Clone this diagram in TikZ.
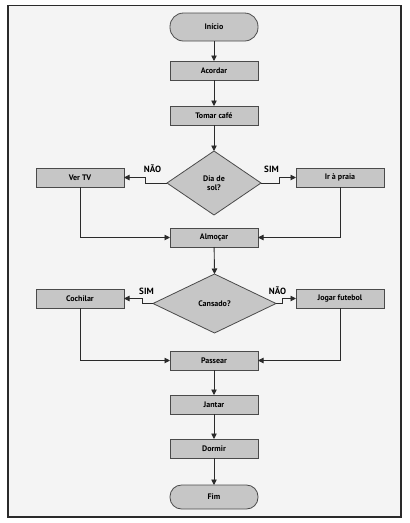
\documentclass[tikz,border=0pt]{standalone}
\usepackage{fontspec}
\setmainfont{PT Sans}
\usetikzlibrary{shapes.geometric,arrows.meta}
\definecolor{bgc}{HTML}{F4F4F4}
\definecolor{boxc}{HTML}{C6C6C6}
\definecolor{edgec}{HTML}{4A4A4A}
\definecolor{linec}{HTML}{2A2A2A}
\begin{document}
\begin{tikzpicture}[x=1pt,y=-1pt,
  every node/.style={font=\fontsize{8}{9}\selectfont\bfseries, text=black},
  procbox/.style={draw=edgec, fill=boxc, line width=0.8pt, minimum width=88pt, minimum height=19pt, inner sep=0pt, outer sep=0pt},
  termbox/.style={draw=edgec, fill=boxc, line width=0.8pt, minimum width=88pt, inner sep=0pt, outer sep=0pt},
  decbox/.style={draw=edgec, fill=boxc, line width=0.8pt, shape=diamond, inner sep=0pt, outer sep=0pt, align=center},
  arr/.style={draw=linec, line width=0.9pt, -{Triangle[length=5.5pt,width=5.5pt]}},
  lbl/.style={font=\fontsize{9}{10}\selectfont\bfseries}
]
\useasboundingbox (0,0) rectangle (410,523);
\fill[white] (0,0) rectangle (410,523);
\draw[draw=linec, fill=bgc, line width=1.2pt] (8,5.5) rectangle (401,517);

\node[termbox, minimum height=28pt, rounded corners=13.5pt] (inicio) at (214,27) {Início};
\node[procbox] (acordar) at (214,70.5) {Acordar};
\node[procbox] (cafe) at (214,115.5) {Tomar café};
\node[decbox, minimum width=94pt, minimum height=64pt] (d1) at (214,183) {Dia de\\sol?};
\node[procbox] (vertv) at (80,177.5) {Ver TV};
\node[procbox] (praia) at (340,177.5) {Ir à praia};
\node[procbox] (almoco) at (214,237.5) {Almoçar};
\node[decbox, minimum width=123pt, minimum height=59pt] (d2) at (214.5,303.5) {Cansado?};
\node[procbox] (cochilar) at (80,298.5) {Cochilar};
\node[procbox] (futebol) at (340,298.5) {Jogar futebol};
\node[procbox] (passear) at (214,360.5) {Passear};
\node[procbox] (jantar) at (214,404.5) {Jantar};
\node[procbox] (dormir) at (214,448.5) {Dormir};
\node[termbox, minimum height=24pt, rounded corners=11.5pt] (fim) at (214,497) {Fim};

\node[lbl] (nao1) at (152.5,169) {NÃO};
\node[lbl] (sim1) at (271.5,169) {SIM};
\node[lbl] (sim2) at (146.5,291) {SIM};
\node[lbl] (nao2) at (277.5,291) {NÃO};

\draw[arr] (inicio) -- (acordar);
\draw[arr] (acordar) -- (cafe);
\draw[arr] (cafe) -- (d1);
\draw[arr] (d1.west) -- ++(-22,0) |- (vertv.east);
\draw[arr] (d1.east) -- ++(18,0) |- (praia.west);
\draw[arr] (vertv.south) |- (almoco.west);
\draw[arr] (praia.south) |- (almoco.east);
\draw[arr] (almoco) -- (d2.north);
\draw[arr] (d2.west) -- ++(-11,0) |- (cochilar.east);
\draw[arr] (d2.east) -- ++(6,0) |- (futebol.west);
\draw[arr] (cochilar.south) |- (passear.west);
\draw[arr] (futebol.south) |- (passear.east);
\draw[arr] (passear) -- (jantar);
\draw[arr] (jantar) -- (dormir);
\draw[arr] (dormir) -- (fim);
\end{tikzpicture}
\end{document}
